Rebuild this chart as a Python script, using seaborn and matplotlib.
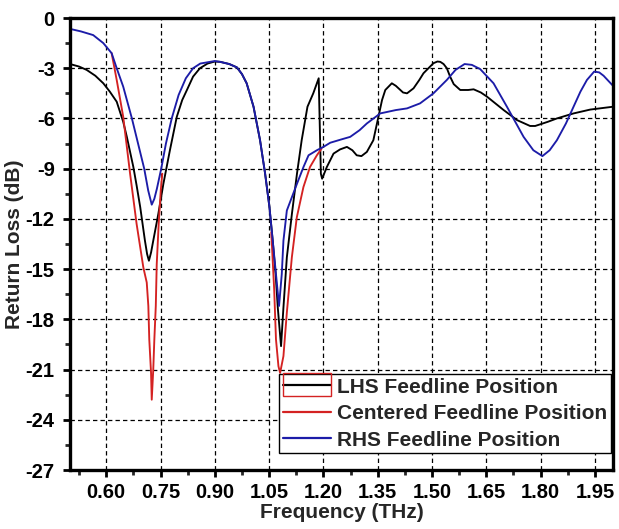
import numpy as np
import pandas as pd
import matplotlib
matplotlib.use("Agg")
import matplotlib.pyplot as plt
from matplotlib.ticker import MultipleLocator, FormatStrFormatter
from matplotlib.patches import Rectangle
import seaborn as sns

# ---------------- data ----------------
lhs_freq = [0.50, 0.525, 0.546, 0.57, 0.592, 0.61, 0.629, 0.638, 0.647, 0.657,
            0.666, 0.675, 0.684, 0.694, 0.707, 0.713, 0.718, 0.724, 0.730, 0.744,
            0.758, 0.776, 0.795, 0.81, 0.823, 0.84, 0.859, 0.88, 0.90, 0.915,
            0.94, 0.961, 0.975, 0.988, 1.007, 1.025, 1.039, 1.051, 1.06, 1.068,
            1.074, 1.083, 1.0896, 1.099, 1.113, 1.127, 1.14, 1.156, 1.172, 1.187,
            1.193, 1.1965, 1.2095, 1.228, 1.246, 1.265, 1.28, 1.292, 1.305, 1.32,
            1.338, 1.345, 1.352, 1.362, 1.371, 1.389, 1.40, 1.4075, 1.42, 1.431,
            1.449, 1.465, 1.4765, 1.504, 1.515, 1.523, 1.532, 1.541, 1.55, 1.56,
            1.578, 1.60, 1.615, 1.635, 1.652, 1.675, 1.698, 1.735, 1.771, 1.785,
            1.799, 1.82, 1.845, 1.891, 1.937, 2.00]
lhs_db = [-2.75, -2.9, -3.1, -3.45, -3.9, -4.4, -5.0, -5.6, -6.2, -7.1,
          -8.0, -8.9, -10.0, -11.3, -13.3, -14.1, -14.5, -14.0, -13.3, -11.7,
          -9.9, -7.9, -5.9, -4.9, -4.3, -3.5, -3.0, -2.72, -2.6, -2.62,
          -2.75, -2.95, -3.35, -3.9, -5.3, -7.3, -9.3, -11.3, -13.3, -15.3,
          -17.3, -19.6, -17.3, -14.3, -11.7, -9.3, -7.3, -5.3, -4.5, -3.6,
          -9.3, -9.6, -8.9, -8.1, -7.85, -7.7, -7.9, -8.2, -8.25, -8.0,
          -7.3, -6.6, -5.9, -4.9, -4.3, -3.9, -4.05, -4.2, -4.45, -4.5,
          -4.2, -3.7, -3.3, -2.7, -2.6, -2.62, -2.75, -3.0, -3.5, -3.95,
          -4.3, -4.3, -4.26, -4.45, -4.7, -5.1, -5.5, -6.1, -6.45, -6.45,
          -6.35, -6.2, -6.0, -5.7, -5.47, -5.3]

ctr_freq_a = [0.615, 0.629, 0.647, 0.666, 0.684, 0.7026, 0.712, 0.7164, 0.719,
              0.7239, 0.7258, 0.730, 0.733, 0.737, 0.7396, 0.745, 0.7507, 0.755]
ctr_db_a = [-2.1, -3.7, -5.9, -9.3, -12.3, -14.9, -15.8, -17.2, -19.2,
            -21.2, -22.8, -21.0, -19.2, -17.2, -14.7, -12.3, -10.3, -9.3]
ctr_freq_b = [1.056, 1.064, 1.069, 1.0758, 1.0804, 1.0896, 1.099, 1.1128,
              1.1266, 1.1448, 1.163, 1.182, 1.195]
ctr_db_b = [-12.8, -16.2, -19.2, -20.8, -21.2, -20.2, -17.6, -14.3,
            -11.9, -10.1, -8.9, -8.2, -7.8]

rhs_freq = [0.50, 0.53, 0.564, 0.592, 0.615, 0.629, 0.647, 0.671, 0.688, 0.705,
            0.716, 0.7258, 0.733, 0.740, 0.752, 0.765, 0.781, 0.80, 0.82, 0.84,
            0.86, 0.90, 0.915, 0.94, 0.961, 0.975, 0.988, 1.007, 1.025, 1.039,
            1.051, 1.060, 1.069, 1.0775, 1.085, 1.0896, 1.099, 1.113, 1.127, 1.145,
            1.159, 1.182, 1.20, 1.219, 1.25, 1.274, 1.30, 1.32, 1.357, 1.40,
            1.431, 1.467, 1.504, 1.541, 1.565, 1.59, 1.61, 1.633, 1.67, 1.707,
            1.753, 1.78, 1.805, 1.825, 1.845, 1.87, 1.891, 1.91, 1.928, 1.948,
            1.962, 1.974, 2.00]
rhs_db = [-0.65, -0.8, -1.02, -1.5, -2.1, -3.0, -4.1, -6.0, -7.5, -9.0,
          -10.3, -11.15, -10.8, -10.2, -9.0, -7.5, -6.0, -4.6, -3.6, -3.0,
          -2.72, -2.57, -2.62, -2.75, -2.95, -3.35, -3.9, -5.3, -7.3, -9.3,
          -11.3, -13.3, -15.3, -17.2, -15.3, -13.3, -11.5, -10.7, -9.9, -8.9,
          -8.2, -7.9, -7.7, -7.45, -7.25, -7.1, -6.7, -6.3, -5.7, -5.5,
          -5.4, -5.1, -4.5, -3.7, -3.1, -2.75, -2.8, -3.05, -3.9, -5.3,
          -7.1, -7.9, -8.25, -7.9, -7.3, -6.3, -5.3, -4.4, -3.7, -3.2,
          -3.25, -3.45, -4.05]

series_names = ["LHS Feedline Position", "Centered Feedline Position", "RHS Feedline Position"]
x_ticks = [0.60, 0.75, 0.90, 1.05, 1.20, 1.35, 1.50, 1.65, 1.80, 1.95]
y_ticks = [0, -3, -6, -9, -12, -15, -18, -21, -24, -27]

# ---------------- style ----------------
sns.set_style("ticks")
plt.rcParams["font.family"] = ["Liberation Sans", "DejaVu Sans"]
plt.rcParams["font.weight"] = "bold"
plt.rcParams["axes.unicode_minus"] = False

c_black = "#000000"
c_red = "#d42222"
c_blue = "#1c1ca8"

fig = plt.figure(figsize=(6.19, 5.29), dpi=100)
ax = fig.add_axes([70 / 619, 59 / 529, 543 / 619, 452 / 529])

lw = 1.35
sns.lineplot(x=lhs_freq, y=lhs_db, ax=ax, color=c_black, lw=lw, sort=False,
             estimator=None, label=series_names[0])
sns.lineplot(x=ctr_freq_a, y=ctr_db_a, ax=ax, color=c_red, lw=lw, sort=False,
             estimator=None, label=series_names[1])
sns.lineplot(x=ctr_freq_b, y=ctr_db_b, ax=ax, color=c_red, lw=lw, sort=False,
             estimator=None, label="_nolegend_")
sns.lineplot(x=rhs_freq, y=rhs_db, ax=ax, color=c_blue, lw=lw, sort=False,
             estimator=None, label=series_names[2])

ax.set_xlim(0.5, 2.0)
ax.set_ylim(-27, 0)
ax.set_xticks(x_ticks)
ax.set_yticks(y_ticks)
ax.xaxis.set_major_formatter(FormatStrFormatter("%.2f"))
ax.yaxis.set_major_formatter(FormatStrFormatter("%d"))
ax.xaxis.set_minor_locator(MultipleLocator(0.075))
ax.yaxis.set_minor_locator(MultipleLocator(1.5))

ax.grid(True, which="major", color="black", lw=0.9, linestyle=(0, (3.5, 2.5)))
for s in ax.spines.values():
    s.set_linewidth(2.4)
    s.set_color("black")

ax.tick_params(axis="both", which="major", direction="out", length=5, width=2,
               labelsize=14.5, pad=4, colors="black")
ax.tick_params(axis="both", which="minor", direction="out", length=3.5, width=2)
ax.tick_params(axis="y", which="major", pad=6)
for lab in ax.get_xticklabels() + ax.get_yticklabels():
    lab.set_fontweight("bold")

ax.set_xlabel("Frequency (THz)", fontsize=15, fontweight="bold", labelpad=1)
ax.set_ylabel("Return Loss (dB)", fontsize=15, fontweight="bold", va="center")
ax.yaxis.set_label_coords(-0.102, 0.5)

leg = ax.legend(loc="lower right", bbox_to_anchor=(0.996, 0.037), borderaxespad=0,
                frameon=True, fancybox=False, edgecolor="black", framealpha=1,
                prop={"weight": "bold", "size": 15}, handlelength=2.3,
                handletextpad=0.3, labelspacing=0.36, borderpad=0.18)
leg.get_frame().set_linewidth(1.0)
for h in leg.get_lines():
    h.set_linewidth(1.6)

# red outline box around the first legend handle (as in the reference)
fig.canvas.draw()
handle = leg.get_lines()[0]
bb = handle.get_window_extent(fig.canvas.get_renderer())
x0, x1 = bb.x0, bb.x1
yc = (bb.y0 + bb.y1) / 2
fig.patches.append(Rectangle((x0 / 619, (yc - 11) / 529), (x1 - x0) / 619, 23 / 529,
                             transform=fig.transFigure, fill=False,
                             edgecolor=c_red, lw=1.0, zorder=10))

fig.savefig("out.png", dpi=100)
